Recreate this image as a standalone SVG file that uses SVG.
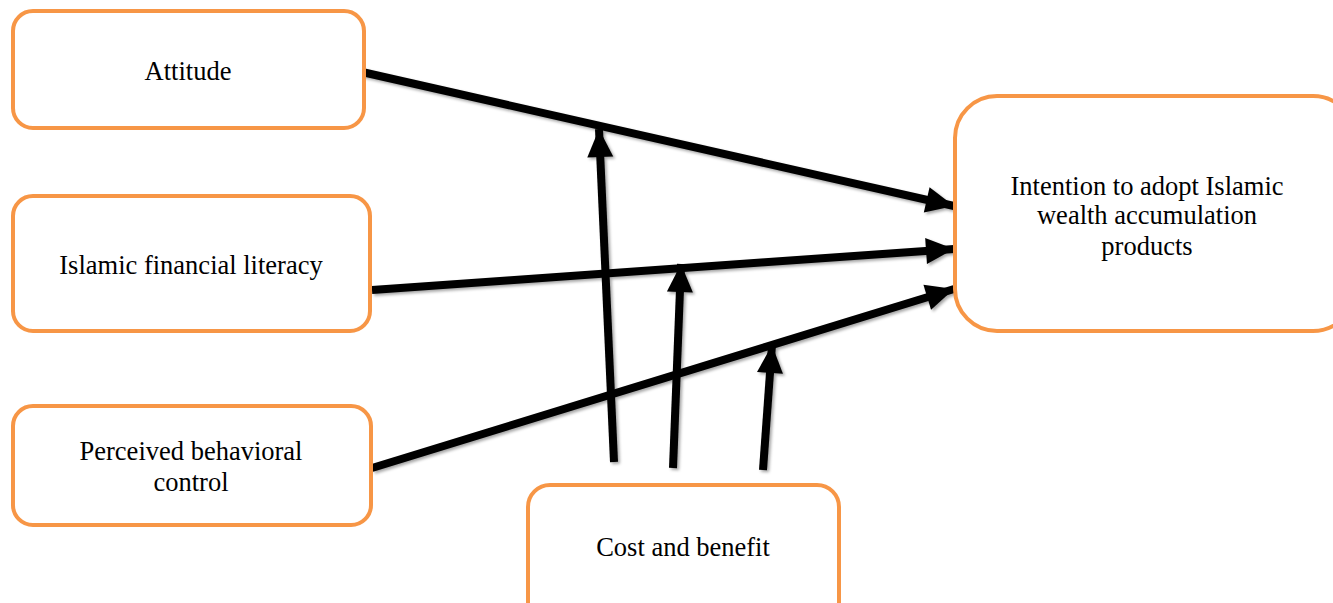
<svg xmlns="http://www.w3.org/2000/svg" width="1333" height="603" viewBox="0 0 1333 603">
  <style>
    .box { fill: #ffffff; stroke: #F79646; stroke-width: 4; }
    .lbl { font-family: "Liberation Serif", "Times New Roman", serif; font-size: 26.5px; fill: #000000; text-anchor: middle; }
    .link { stroke: #000000; stroke-width: 8; fill: none; marker-end: url(#head); }
  </style>
  <defs>
    <marker id="head" markerUnits="userSpaceOnUse" markerWidth="32" markerHeight="32" viewBox="0 0 32 32" refX="30" refY="16" orient="auto">
      <path d="M2,3 L30,16 L2,29 Z" fill="#000000"/>
    </marker>
    <filter id="shade" x="-10%" y="-10%" width="120%" height="120%">
      <feDropShadow dx="2" dy="2" stdDeviation="1.5" flood-color="#000000" flood-opacity="0.35"/>
    </filter>
  </defs>

  <g id="connectors" filter="url(#shade)">
    <line class="link" x1="362" y1="72" x2="954" y2="206"/>
    <line class="link" x1="372" y1="290" x2="954" y2="249"/>
    <line class="link" x1="372" y1="468" x2="954" y2="289"/>
    <line class="link" x1="614" y1="462" x2="599" y2="129"/>
    <line class="link" x1="673" y1="468" x2="681" y2="264"/>
    <line class="link" x1="763" y1="470" x2="772" y2="345"/>
  </g>

  <g id="attitude">
    <rect class="box" x="13" y="11" width="351" height="117" rx="20"/>
    <text class="lbl" x="188" y="80">Attitude</text>
  </g>

  <g id="literacy">
    <rect class="box" x="13" y="196" width="357" height="135" rx="20"/>
    <text class="lbl" x="191" y="274">Islamic financial literacy</text>
  </g>

  <g id="control">
    <rect class="box" x="13" y="406" width="358" height="119" rx="20"/>
    <text class="lbl" x="191" y="460">Perceived behavioral</text>
    <text class="lbl" x="191" y="491">control</text>
  </g>

  <g id="intention">
    <rect class="box" x="955" y="96" width="400" height="235" rx="42"/>
    <text class="lbl" x="1147" y="195">Intention to adopt Islamic</text>
    <text class="lbl" x="1147" y="224">wealth accumulation</text>
    <text class="lbl" x="1147" y="255">products</text>
  </g>

  <g id="cost">
    <rect class="box" x="528" y="485" width="311" height="140" rx="22"/>
    <text class="lbl" x="683" y="556">Cost and benefit</text>
  </g>
</svg>
